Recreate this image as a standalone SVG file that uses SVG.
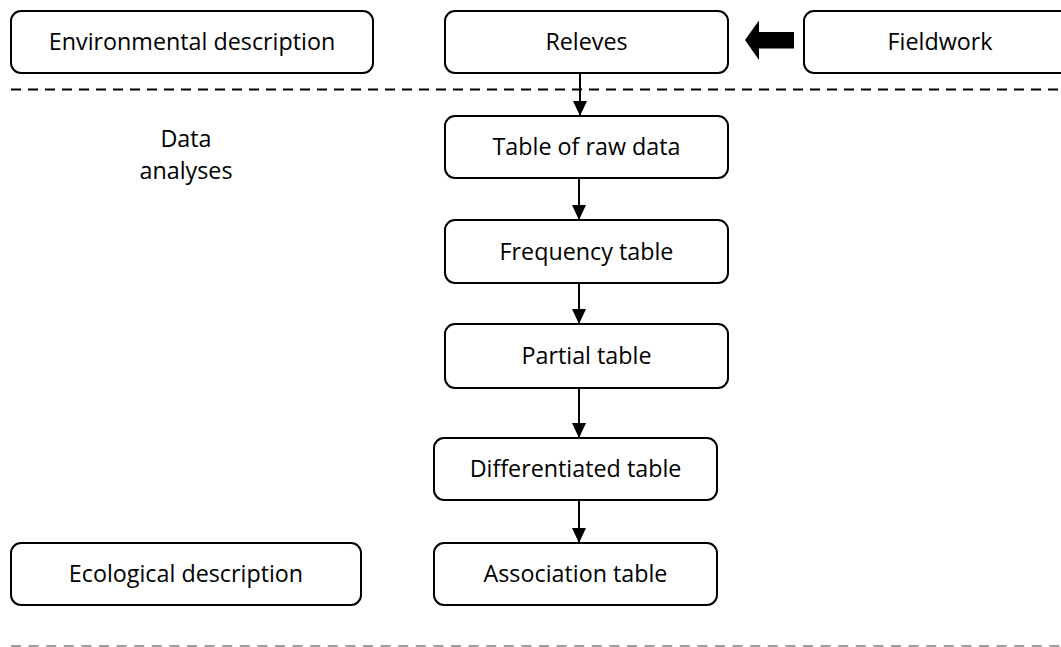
<svg xmlns="http://www.w3.org/2000/svg" width="1061" height="647" viewBox="0 0 1061 647">
<style>
.box{fill:#fff;stroke:#000;stroke-width:2}
.t{font-family:"Open Sans","Liberation Sans",sans-serif;font-size:23.3px;fill:#000;text-anchor:middle}
.conn{stroke:#000;stroke-width:2;fill:none}
</style>
<defs>
<marker id="ah" markerUnits="userSpaceOnUse" markerWidth="15" markerHeight="15" viewBox="0 0 15 14" refX="15" refY="7" orient="auto">
<path d="M0,0 L15,7 L0,14 Z" fill="#000"/>
</marker>
</defs>
<rect width="1061" height="647" fill="#fff"/>
<g id="separators">
<line x1="11" y1="89.5" x2="1061" y2="89.5" stroke="#000" stroke-width="2" stroke-dasharray="10,7"/>
<line x1="11" y1="646" x2="1061" y2="646" stroke="#7f7f7f" stroke-width="1.5" stroke-dasharray="10,7.6"/>
</g>
<g id="connectors">
<line class="conn" x1="580" y1="73" x2="580" y2="116" marker-end="url(#ah)"/>
<line class="conn" x1="579" y1="178" x2="579" y2="220" marker-end="url(#ah)"/>
<line class="conn" x1="579" y1="283" x2="579" y2="324" marker-end="url(#ah)"/>
<line class="conn" x1="579" y1="388" x2="579" y2="438" marker-end="url(#ah)"/>
<line class="conn" x1="579" y1="500" x2="579" y2="543" marker-end="url(#ah)"/>
<polygon id="block-arrow" points="745,40 759,20.5 759,32 794,32 794,48.5 759,48.5 759,60" fill="#000"/>
</g>
<g id="environmental">
<rect class="box" x="11" y="11" width="362" height="62" rx="10"/>
<text class="t" x="192" y="50">Environmental description</text>
</g>
<g id="releves">
<rect class="box" x="445" y="11" width="283" height="62" rx="10"/>
<text class="t" x="586.5" y="50">Releves</text>
</g>
<g id="fieldwork">
<rect class="box" x="804" y="11" width="272" height="62" rx="10"/>
<text class="t" x="940" y="50">Fieldwork</text>
</g>
<g id="data-analyses">
<text class="t" x="186" y="147">Data</text>
<text class="t" x="186" y="179">analyses</text>
</g>
<g id="raw-data">
<rect class="box" x="445" y="116" width="283" height="62" rx="10"/>
<text class="t" x="586.5" y="155">Table of raw data</text>
</g>
<g id="frequency">
<rect class="box" x="445" y="220" width="283" height="63" rx="10"/>
<text class="t" x="586.5" y="260">Frequency table</text>
</g>
<g id="partial">
<rect class="box" x="445" y="324" width="283" height="64" rx="10"/>
<text class="t" x="586.5" y="364">Partial table</text>
</g>
<g id="differentiated">
<rect class="box" x="434" y="438" width="283" height="62" rx="10"/>
<text class="t" x="575.5" y="477">Differentiated table</text>
</g>
<g id="association">
<rect class="box" x="434" y="543" width="283" height="62" rx="10"/>
<text class="t" x="575.5" y="582">Association table</text>
</g>
<g id="ecological">
<rect class="box" x="11" y="543" width="350" height="62" rx="10"/>
<text class="t" x="186" y="582">Ecological description</text>
</g>
</svg>
